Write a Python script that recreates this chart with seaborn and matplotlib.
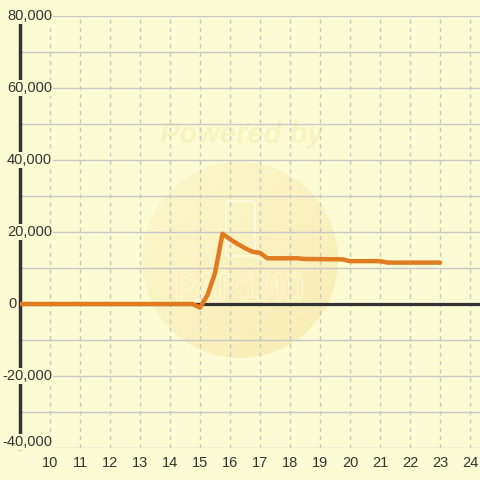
import numpy as np
import seaborn as sns
import matplotlib.pyplot as plt
from matplotlib.patches import Circle, FancyBboxPatch
from matplotlib import patheffects as pe
from matplotlib.colors import LinearSegmentedColormap
from matplotlib.transforms import blended_transform_factory

# data
hours = [9, 14.75, 15.0, 15.25, 15.5, 15.75, 16.0, 16.25, 16.5, 16.75, 17.0, 17.25,
         18.25, 18.5, 19.75, 20.0, 21.0, 21.25, 23.0]
values = [0, 0, -1000, 2500, 8600, 19500, 18000, 16700, 15500, 14500, 14200, 12700,
          12700, 12500, 12400, 11900, 11900, 11500, 11500]
x_ticks = list(range(10, 25))
y_ticks = list(range(-40000, 80001, 20000))

bg = '#FCFCD4'
sns.set_theme(style="white", rc={"axes.facecolor": bg, "figure.facecolor": bg})
plt.rcParams['font.family'] = ['Liberation Sans', 'DejaVu Sans']

fig = plt.figure(figsize=(4.8, 4.8), dpi=100)
ax = fig.add_axes([20/480, 32/480, 460/480, 432/480])

# faint watermark (gradient disc, text, icon)
wm = fig.add_axes([0, 0, 1, 1], zorder=-1)
wm.set_xlim(0, 480)
wm.set_ylim(480, 0)
wm.axis('off')
g = np.linspace(0, 1, 200)
grad = (g[None, :] * 0.5 + g[:, None] * 0.5)
cmap = LinearSegmentedColormap.from_list('wm', ['#FBF7CC', '#F9EDB3'])
img = wm.imshow(grad, extent=(141, 339, 358, 161), cmap=cmap, aspect='auto',
                interpolation='bilinear')
disc = Circle((240, 260), 98, transform=wm.transData)
img.set_clip_path(disc)
wm.text(242, 135, 'Powered by', ha='center', va='center', fontsize=21,
        fontweight='bold', style='italic', color='#F8F2BE')
wm.add_patch(FancyBboxPatch((226, 201), 29, 55, boxstyle='round,pad=0,rounding_size=3',
                            fill=False, ec='#FDFAE0', lw=1.3))
wm.text(239, 290, 'PAPiMO', ha='center', va='center', fontsize=26,
        family='DejaVu Sans Mono', color='#FAF0BA',
        path_effects=[pe.withStroke(linewidth=1.4, foreground='#FDFAE0')])

ax.patch.set_alpha(0)
fig.patch.set_facecolor(bg)
ax.set_xlim(9, 9 + 460/30)
ax.set_ylim(-40000, 80000)

# grid
for v in range(-40000, 80001, 10000):
    ax.axhline(v, color='#C8C8C8', lw=1, zorder=1)
for t in x_ticks:
    ax.axvline(t, color='#C8C8C8', lw=1, ls=(0, (3, 3)), zorder=1)

ax.axhline(0, color='#333333', lw=2.3, zorder=2)
sns.lineplot(x=hours, y=values, ax=ax, color='#E07B22', lw=3.2, zorder=3)

for s in ['top', 'right', 'bottom']:
    ax.spines[s].set_visible(False)
ax.spines['left'].set_color('#333333')
ax.spines['left'].set_linewidth(2.5)
ax.spines['left'].set_zorder(2)

ax.set_xticks(x_ticks)
ax.set_xticklabels([str(t) for t in x_ticks])
ax.set_yticks(y_ticks)
ax.set_yticklabels([])
ax.tick_params(axis='both', length=0, labelsize=10.5, colors='#333333')
ax.tick_params(axis='x', pad=6)

# y labels sit inside the plot, over the axis line
tr = blended_transform_factory(fig.transFigure, ax.transData)
for v in y_ticks:
    if v == 0:
        ax.text(8/480, v, '0', transform=tr, ha='left', va='center',
                fontsize=10.5, color='#333333', zorder=5)
        continue
    yy = v + 1700 if v == -40000 else v
    ax.text(52/480, yy, f'{v:,}', transform=tr, ha='right', va='center',
            fontsize=10.5, color='#333333', zorder=5, clip_on=False,
            bbox=dict(facecolor=bg, edgecolor='none', pad=0.5))

fig.savefig("out.png", dpi=100)
